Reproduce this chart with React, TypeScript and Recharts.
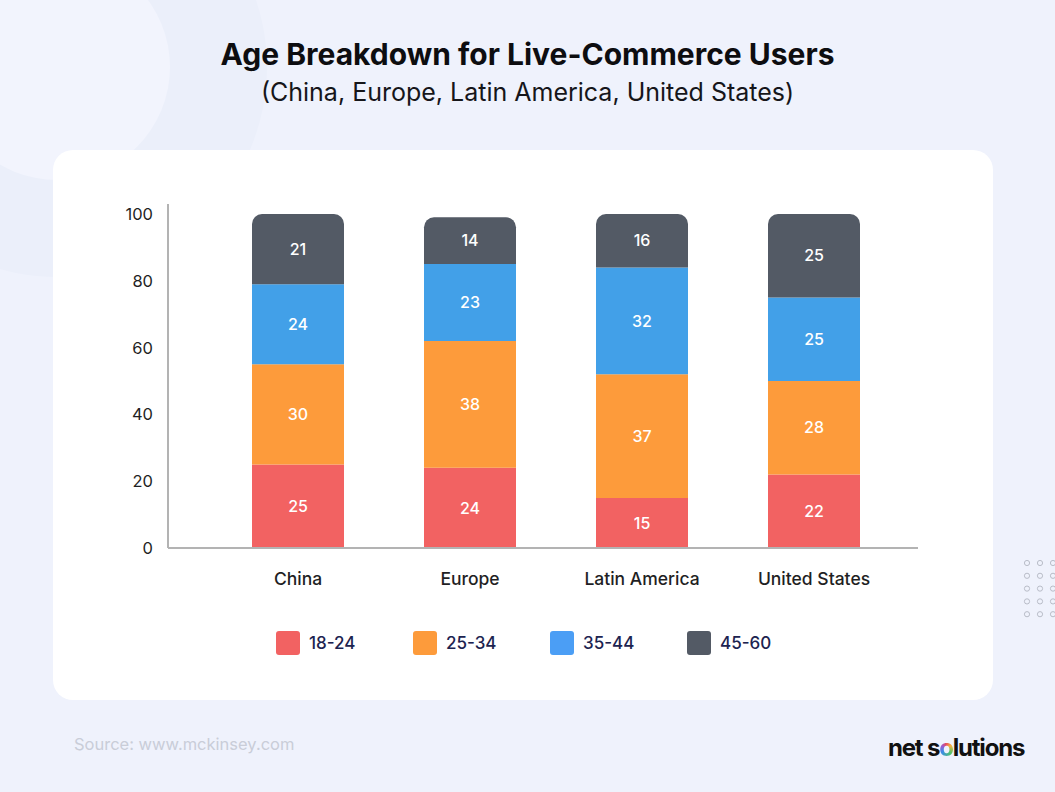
import React from 'react';
import { BarChart, Bar, XAxis, YAxis, Legend, LabelList } from 'recharts';

const categories = ['China', 'Europe', 'Latin America', 'United States'];
const age18to24 = [25, 24, 15, 22];
const age25to34 = [30, 38, 37, 28];
const age35to44 = [24, 23, 32, 25];
const age45to60 = [21, 14, 16, 25];
const seriesNames = ['18-24', '25-34', '35-44', '45-60'];
const seriesColors = ['#F26262', '#FD9B3B', '#42A0E8', '#535A65'];
const legendColors = ['#F26262', '#FD9B3B', '#4B9EF5', '#535A65'];
const yTicks = [0, 20, 40, 60, 80, 100];

const data = categories.map((name, i) => ({
  name,
  a: age18to24[i],
  b: age25to34[i],
  c: age35to44[i],
  d: age45to60[i],
}));
const keys = ['a', 'b', 'c', 'd'];

const FONT = 'Inter, "Noto Sans", sans-serif';

const XTick = (props: any) => {
  const { x, y, payload } = props;
  return (
    <text x={x} y={y + 28} textAnchor="middle" dominantBaseline="central"
      fontFamily={FONT} fontSize={17.5} fontWeight={500} fill="#1f1f24">
      {payload.value}
    </text>
  );
};

const YTick = (props: any) => {
  const { x, y, payload } = props;
  return (
    <text x={x} y={y} textAnchor="end" dominantBaseline="central"
      fontFamily={FONT} fontSize={16.5} fill="#1f1f24">
      {payload.value}
    </text>
  );
};

const renderLegend = () => (
  <div style={{ display: 'flex', alignItems: 'center', fontFamily: FONT }}>
    {seriesNames.map((n, i) => (
      <div key={n} style={{ display: 'flex', alignItems: 'center', width: 137 }}>
        <div style={{ width: 24, height: 24, borderRadius: 3, background: legendColors[i], marginRight: 9 }} />
        <span style={{ fontSize: 17, fontWeight: 500, color: '#1c2350' }}>{n}</span>
      </div>
    ))}
  </div>
);

export default function App() {
  const dots: JSX.Element[] = [];
  for (let r = 0; r < 5; r++) {
    for (let c = 0; c < 3; c++) {
      dots.push(<circle key={`${r}-${c}`} cx={1027 + c * 13} cy={563 + r * 12.8} r={2.6} fill="none" stroke="#b9bdc8" strokeWidth={1} />);
    }
  }
  return (
    <div style={{ position: 'absolute', left: 0, top: 0, width: 1055, height: 792, background: '#eff2fc', overflow: 'hidden', fontFamily: FONT }}>
      <svg width={1055} height={792} style={{ position: 'absolute', left: 0, top: 0 }}>
        <circle cx={57} cy={67} r={210} fill="#ebeffa" />
        <circle cx={57} cy={67} r={113} fill="#f2f4fd" />
        {dots}
      </svg>
      <div style={{ position: 'absolute', left: 0, width: 1055, top: 35, textAlign: 'center', fontSize: 30, fontWeight: 700, color: '#0d0d10', lineHeight: '38px' }}>
        Age Breakdown for Live-Commerce Users
      </div>
      <div style={{ position: 'absolute', left: 0, width: 1055, top: 76, textAlign: 'center', fontSize: 25, fontWeight: 400, color: '#16161a', lineHeight: '32px' }}>
        (China, Europe, Latin America, United States)
      </div>
      <div style={{ position: 'absolute', left: 53, top: 150, width: 940, height: 550, background: '#ffffff', borderRadius: 20 }} />
      <div style={{ position: 'absolute', left: 74, top: 734, fontSize: 16.5, color: '#c9cdd8' }}>
        Source: www.mckinsey.com
      </div>
      <div style={{ position: 'absolute', left: 888, top: 733, fontSize: 24, fontWeight: 700, color: '#111', letterSpacing: -1.2 }}>
        net s<span style={{ background: 'conic-gradient(#e84a5f, #f6b33d, #4fc36e, #3a8ee6, #9b59d0, #e84a5f)', WebkitBackgroundClip: 'text', backgroundClip: 'text', color: 'transparent' }}>o</span>lutions
      </div>
      <div style={{ position: 'absolute', left: 0, top: 0 }}>
        <BarChart width={1055} height={792} data={data}
          margin={{ top: 204, right: 137, bottom: 204, left: 108 }}>
          <XAxis dataKey="name" padding={{ left: 44, right: 18 }} axisLine={{ stroke: '#b3b3b3', strokeWidth: 2 }}
            tickLine={false} tickSize={0} height={40} tick={<XTick />} interval={0} />
          <YAxis domain={[0, 103]} ticks={yTicks} width={60} axisLine={{ stroke: '#b3b3b3', strokeWidth: 2 }}
            tickLine={false} tickSize={0} tickMargin={15} tick={<YTick />} allowDataOverflow />
          <Legend verticalAlign="middle" content={renderLegend} wrapperStyle={{ left: 276, top: 631, width: 560, height: 24 }} />
          {keys.map((k, i) => (
            <Bar key={k} dataKey={k} name={seriesNames[i]} stackId="s" fill={seriesColors[i]} barSize={92}
              radius={i === 3 ? [10, 10, 0, 0] : 0} isAnimationActive={false}>
              <LabelList dataKey={k} position="center" fill="#ffffff" fontFamily={FONT} fontSize={16} fontWeight={500} />
            </Bar>
          ))}
        </BarChart>
      </div>
    </div>
  );
}
